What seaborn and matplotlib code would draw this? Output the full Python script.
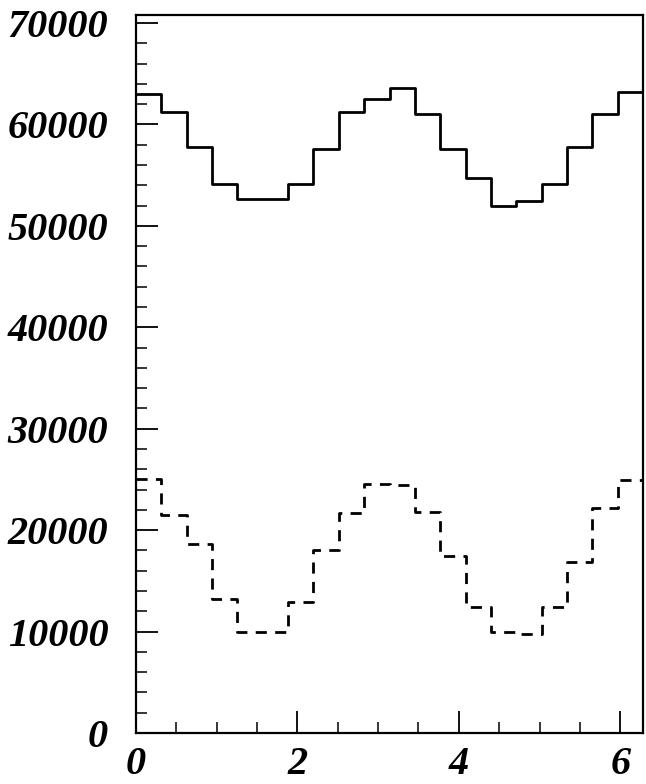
import numpy as np
import pandas as pd
import matplotlib
matplotlib.use("Agg")
import matplotlib.pyplot as plt
import seaborn as sns
from matplotlib.ticker import MultipleLocator

# 20 bins over 0..2pi, counts
n_bins = 20
solid_counts = [63020, 61210, 57820, 54110, 52660, 52660, 54110, 57560, 61210, 62520,
                63580, 61050, 57560, 54700, 52000, 52500, 54110, 57820, 61050, 63150]
dashed_counts = [25050, 21500, 18610, 13220, 9930, 9930, 12950, 18050, 21730, 24530,
                 24460, 21820, 17490, 12460, 9930, 9760, 12460, 16890, 22160, 24950]
x_ticks = [0, 2, 4, 6]
y_ticks = [0, 10000, 20000, 30000, 40000, 50000, 60000, 70000]

edges = np.linspace(0, 2 * np.pi, n_bins + 1)
centers = (edges[:-1] + edges[1:]) / 2
df = pd.DataFrame({
    "phi": np.concatenate([centers, centers]),
    "w": solid_counts + dashed_counts,
    "kind": ["solid"] * n_bins + ["dashed"] * n_bins,
})

sns.set_style("ticks")
plt.rcParams["font.family"] = ["Liberation Serif", "DejaVu Serif"]

fig = plt.figure(figsize=(6.46, 7.84), dpi=100)
ax = fig.add_axes([0.2105, 0.065, 0.785, 0.916])

sns.histplot(data=df[df.kind == "solid"], x="phi", weights="w", bins=n_bins,
             binrange=(0, 2 * np.pi), element="step", fill=False, color="black",
             linewidth=2.0, ax=ax)
sns.histplot(data=df[df.kind == "dashed"], x="phi", weights="w", bins=n_bins,
             binrange=(0, 2 * np.pi), element="step", fill=False, color="black",
             linewidth=2.0, linestyle=(0, (4, 3)), ax=ax)

ax.set_xlim(0, 2 * np.pi)
ax.set_ylim(0, 70800)
ax.set_xticks(x_ticks)
ax.set_yticks(y_ticks)
ax.xaxis.set_minor_locator(MultipleLocator(0.5))
ax.yaxis.set_minor_locator(MultipleLocator(2000))
ax.set_xlabel("")
ax.set_ylabel("")

for s in ax.spines.values():
    s.set_visible(True)
    s.set_linewidth(1.6)
    s.set_color("black")

ax.tick_params(which="major", direction="in", length=16, width=1.3, color="black",
               labelcolor="black")
ax.tick_params(which="minor", direction="in", length=8, width=1.1, color="black")
ax.tick_params(axis="y", which="major", pad=20)
ax.tick_params(axis="x", which="major", pad=9)

for lab in ax.get_xticklabels() + ax.get_yticklabels():
    lab.set_fontsize(29)
    lab.set_fontstyle("italic")
    lab.set_fontweight("bold")
    lab.set_color("black")

fig.savefig("out.png", dpi=100, facecolor="white")
